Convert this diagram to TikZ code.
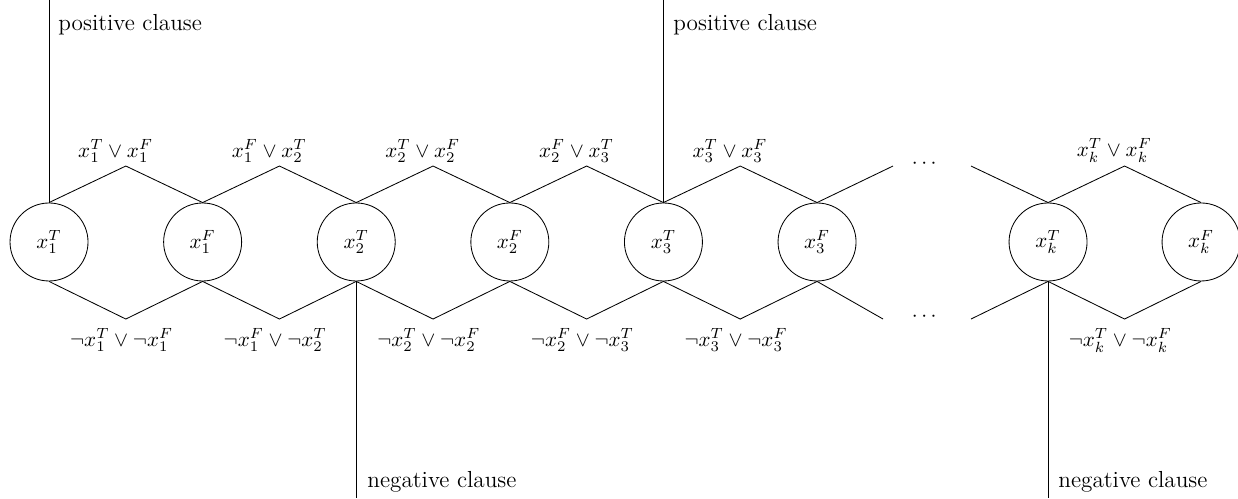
\documentclass[tikz,border=0pt]{standalone}
\usepackage{amsmath, amssymb}
\usepackage{tikz}
\usetikzlibrary{positioning, calc}

\begin{document}
\begin{tikzpicture}[
  var/.style={draw, circle, minimum size=1.3cm, inner sep=0pt},
  toplit/.style={anchor=south, inner sep=0pt, xshift=-0.17cm},
  botlit/.style={anchor=north, inner sep=0pt, xshift=-0.07cm},
  clause/.style={inner sep=0pt, anchor=base west, font=\fontsize{11}{13}\selectfont}]

\useasboundingbox (0,0) rectangle (20.633,8.3);

% Variables
\node[var] (xT1) at (0.817,4.267) {$x_1^T$};
\node[var] (xF1) at (3.377,4.267) {$x_1^F$};
\node[var] (xT2) at (5.937,4.267) {$x_2^T$};
\node[var] (xF2) at (8.497,4.267) {$x_2^F$};
\node[var] (xT3) at (11.057,4.267) {$x_3^T$};
\node[var] (xF3) at (13.617,4.267) {$x_3^F$};
\node[var] (xTk) at (17.467,4.267) {$x_k^T$};
\node[var] (xFk) at (20.017,4.267) {$x_k^F$};

% Positive edges (top)
\coordinate (t1) at (2.097,5.533);
\coordinate (t2) at (4.657,5.533);
\coordinate (t3) at (7.217,5.533);
\coordinate (t4) at (9.777,5.533);
\coordinate (t5) at (12.337,5.533);
\coordinate (tend) at (14.883,5.533);
\coordinate (tstart) at (16.183,5.533);
\coordinate (tk) at (18.742,5.533);

\draw (xT1.north) -- (t1) -- (xF1.north) -- (t2) -- (xT2.north) -- (t3) -- (xF2.north) -- (t4) -- (xT3.north) -- (t5) -- (xF3.north) -- (tend);
\draw (tstart) -- (xTk.north) -- (tk) -- (xFk.north);

\node[toplit] (pl1) at ($(t1)+(0,0.05)$) {$x_1^T \lor x_1^F$};
\node[toplit] (pl2) at ($(t2)+(0,0.05)$) {$x_1^F \lor x_2^T$};
\node[toplit] (pl3) at ($(t3)+(0,0.05)$) {$x_2^T \lor x_2^F$};
\node[toplit] (pl4) at ($(t4)+(0,0.05)$) {$x_2^F \lor x_3^T$};
\node[toplit] (pl5) at ($(t5)+(0,0.05)$) {$x_3^T \lor x_3^F$};
\node[toplit] (plk) at ($(tk)+(0,0.05)$) {$x_k^T \lor x_k^F$};
\node (tdots) at (15.433,5.567) {$\cdots$};

% Negative edges (bottom)
\coordinate (b1) at (2.097,2.983);
\coordinate (b2) at (4.657,2.983);
\coordinate (b3) at (7.217,2.983);
\coordinate (b4) at (9.777,2.983);
\coordinate (b5) at (12.337,2.983);
\coordinate (bend) at (14.717,2.983);
\coordinate (bstart) at (16.183,2.983);
\coordinate (bk) at (18.742,2.983);

\draw (xT1.south) -- (b1) -- (xF1.south) -- (b2) -- (xT2.south) -- (b3) -- (xF2.south) -- (b4) -- (xT3.south) -- (b5) -- (xF3.south) -- (bend);
\draw (bstart) -- (xTk.south) -- (bk) -- (xFk.south);

\node[botlit] (nl1) at ($(b1)+(0,-0.15)$) {$\neg x_1^T \lor \neg x_1^F$};
\node[botlit] (nl2) at ($(b2)+(0,-0.15)$) {$\neg x_1^F \lor \neg x_2^T$};
\node[botlit] (nl3) at ($(b3)+(0,-0.15)$) {$\neg x_2^T \lor \neg x_2^F$};
\node[botlit] (nl4) at ($(b4)+(0,-0.15)$) {$\neg x_2^F \lor \neg x_3^T$};
\node[botlit] (nl5) at ($(b5)+(0,-0.15)$) {$\neg x_3^T \lor \neg x_3^F$};
\node[botlit] (nlk) at ($(bk)+(0,-0.15)$) {$\neg x_k^T \lor \neg x_k^F$};
\node (bdots) at (15.433,3.017) {$\cdots$};

% Clauses
\coordinate (pc1) at (0.817,8.3);
\coordinate (pc2) at (11.057,8.3);
\coordinate (nc1) at (5.937,0);
\coordinate (nc2) at (17.467,0);
\draw (xT1.north) -- (pc1);
\draw (xT3.north) -- (pc2);
\draw (xT2.south) -- (nc1);
\draw (xTk.south) -- (nc2);
\node[clause] (pos1) at (0.967,7.8) {positive clause};
\node[clause] (pos2) at (11.217,7.8) {positive clause};
\node[clause] (neg1) at (6.117,0.183) {negative clause};
\node[clause] (neg2) at (17.633,0.183) {negative clause};

\end{tikzpicture}
\end{document}
